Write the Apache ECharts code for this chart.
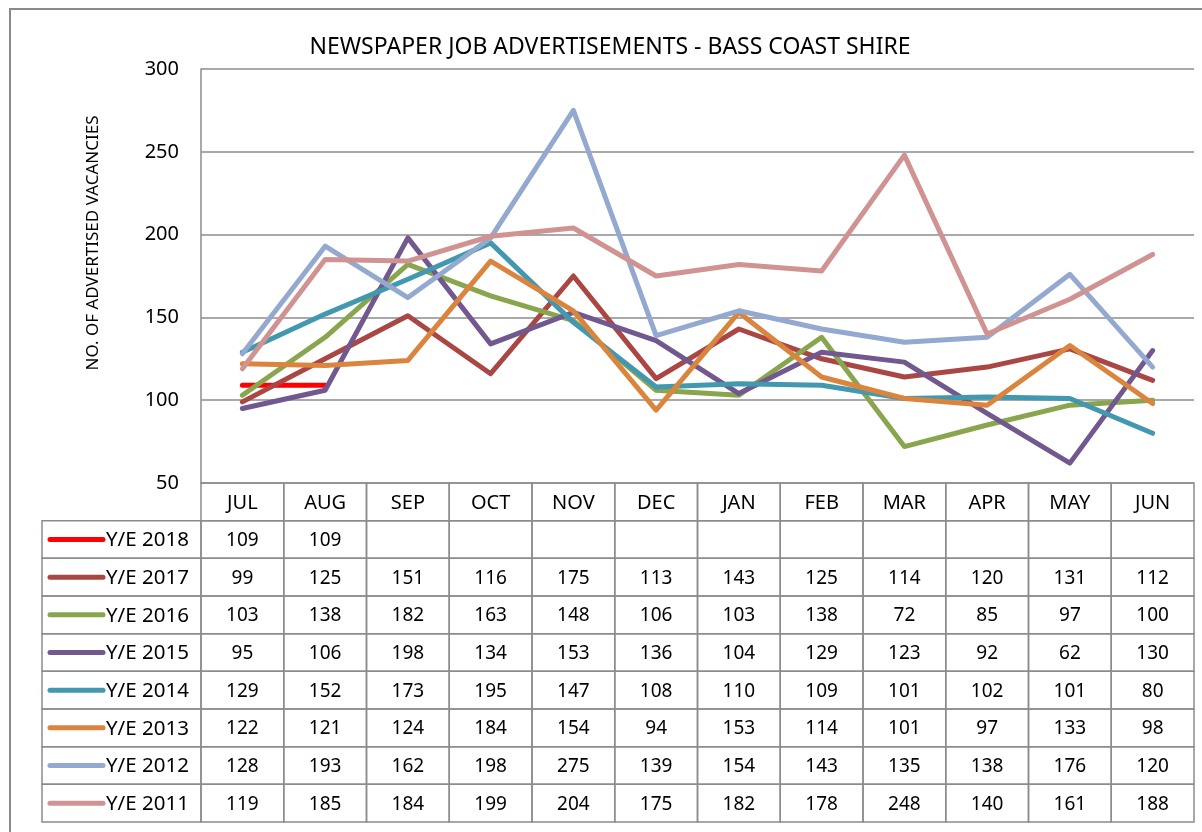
<!DOCTYPE html>
<html>
<head>
<meta charset="utf-8">
<script src="https://cdn.jsdelivr.net/npm/echarts@6/dist/echarts.min.js"></script>
<style>html,body{margin:0;padding:0;background:#fff;}#c{width:1202px;height:832px;}</style>
</head>
<body>
<div id="c"></div>
<script>
const months = ['JUL','AUG','SEP','OCT','NOV','DEC','JAN','FEB','MAR','APR','MAY','JUN'];
const seriesNames = ['Y/E 2018','Y/E 2017','Y/E 2016','Y/E 2015','Y/E 2014','Y/E 2013','Y/E 2012','Y/E 2011'];
const ye2018 = [109,109,null,null,null,null,null,null,null,null,null,null];
const ye2017 = [99,125,151,116,175,113,143,125,114,120,131,112];
const ye2016 = [103,138,182,163,148,106,103,138,72,85,97,100];
const ye2015 = [95,106,198,134,153,136,104,129,123,92,62,130];
const ye2014 = [129,152,173,195,147,108,110,109,101,102,101,80];
const ye2013 = [122,121,124,184,154,94,153,114,101,97,133,98];
const ye2012 = [128,193,162,198,275,139,154,143,135,138,176,120];
const ye2011 = [119,185,184,199,204,175,182,178,248,140,161,188];
const yTicks = [50,100,150,200,250,300];
const colors = ['#FF0000','#AA4643','#89A54E','#71588F','#4198AF','#DB843D','#93A9CF','#D19392'];
const title = 'NEWSPAPER JOB ADVERTISEMENTS - BASS COAST SHIRE';
const yName = 'NO. OF ADVERTISED VACANCIES';

const allSeries = [ye2018, ye2017, ye2016, ye2015, ye2014, ye2013, ye2012, ye2011];
const FONT = 'Noto Sans';
const GRID_COLOR = '#8c8c8c';

// table cells: header row 0 + rows 1..8
const cellData = [];
const cellText = [];
const cellSize = [];
months.forEach((m, i) => { cellData.push([i, 0]); cellText.push(m); cellSize.push(20); });
allSeries.forEach((arr, r) => {
  arr.forEach((v, i) => { cellData.push([i, r + 1]); cellText.push(v == null ? '' : String(v)); cellSize.push(19); });
});
const legendData = seriesNames.map((n, r) => [0, r + 1]);

const chart = echarts.init(document.getElementById('c'), null, {renderer: 'canvas'});
const option = {
  animation: false,
  backgroundColor: '#fff',
  textStyle: {fontFamily: FONT},
  grid: [
    {left: 201, right: 8, top: 69, height: 414},
    {left: 201, right: 8, top: 483, height: 339}
  ],
  xAxis: [
    {gridIndex: 0, type: 'category', data: months, boundaryGap: true,
     axisLine: {show: false}, axisTick: {show: false}, axisLabel: {show: false}, splitLine: {show: false}},
    {gridIndex: 1, type: 'category', data: months, boundaryGap: true, show: false}
  ],
  yAxis: [
    {gridIndex: 0, type: 'value', min: 50, max: 300, interval: 50,
     axisLine: {show: true, lineStyle: {color: GRID_COLOR, width: 1.5}},
     axisTick: {show: false},
     axisLabel: {color: '#000', fontSize: 20, fontFamily: FONT, margin: 22},
     splitLine: {show: true, lineStyle: {color: GRID_COLOR, width: 1.5}}},
    {gridIndex: 1, type: 'category', data: ['H'].concat(seriesNames), inverse: true, show: false}
  ],
  graphic: [
    {type: 'rect', shape: {x: 10, y: 9, width: 1400, height: 1000}, style: {fill: null, stroke: '#8a8a8a', lineWidth: 2}, z: 100},
    {type: 'text', x: 610, y: 47, style: {text: title, fontSize: 23, fontFamily: FONT, fill: '#000', align: 'center', verticalAlign: 'middle'}},
    {type: 'text', x: 93, y: 243, rotation: Math.PI / 2, style: {text: yName, fontSize: 17, fontFamily: FONT, fill: '#000', align: 'center', verticalAlign: 'middle'}}
  ],
  series: allSeries.map((arr, i) => ({
    name: seriesNames[i], type: 'line', xAxisIndex: 0, yAxisIndex: 0,
    data: arr, showSymbol: false, symbol: 'none', connectNulls: false,
    lineStyle: {color: colors[i], width: 5, cap: 'round', join: 'round'},
    itemStyle: {color: colors[i]}, z: 2 + i
  })).concat([
    {
      type: 'custom', xAxisIndex: 1, yAxisIndex: 1, clip: false, data: cellData, z: 20,
      renderItem: function (params, api) {
        const c = api.coord([api.value(0), api.value(1)]);
        const s = api.size([1, 1]);
        return {type: 'group', children: [
          {type: 'rect', shape: {x: c[0] - s[0] / 2, y: c[1] - s[1] / 2, width: s[0], height: s[1]},
           style: {fill: null, stroke: GRID_COLOR, lineWidth: 1.5}},
          {type: 'text', x: c[0], y: c[1] + 1,
           style: {text: cellText[params.dataIndex], fontSize: cellSize[params.dataIndex], fontFamily: FONT, fill: '#000', align: 'center', verticalAlign: 'middle'}}
        ]};
      }
    },
    {
      type: 'custom', xAxisIndex: 1, yAxisIndex: 1, clip: false, data: legendData, z: 20,
      renderItem: function (params, api) {
        const c = api.coord([api.value(0), api.value(1)]);
        const s = api.size([1, 1]);
        const gl = c[0] - s[0] / 2;
        const top = c[1] - s[1] / 2;
        const i = params.dataIndex;
        return {type: 'group', children: [
          {type: 'rect', shape: {x: 42, y: top, width: gl - 42, height: s[1]},
           style: {fill: null, stroke: GRID_COLOR, lineWidth: 1.5}},
          {type: 'line', shape: {x1: 50, y1: c[1], x2: 103, y2: c[1]},
           style: {stroke: colors[i], lineWidth: 5, lineCap: 'round'}},
          {type: 'text', x: 106, y: c[1] + 1,
           style: {text: seriesNames[i], fontSize: 20.5, fontFamily: FONT, fill: '#000', align: 'left', verticalAlign: 'middle'}}
        ]};
      }
    }
  ])
};
chart.setOption(option);
</script>
</body>
</html>
